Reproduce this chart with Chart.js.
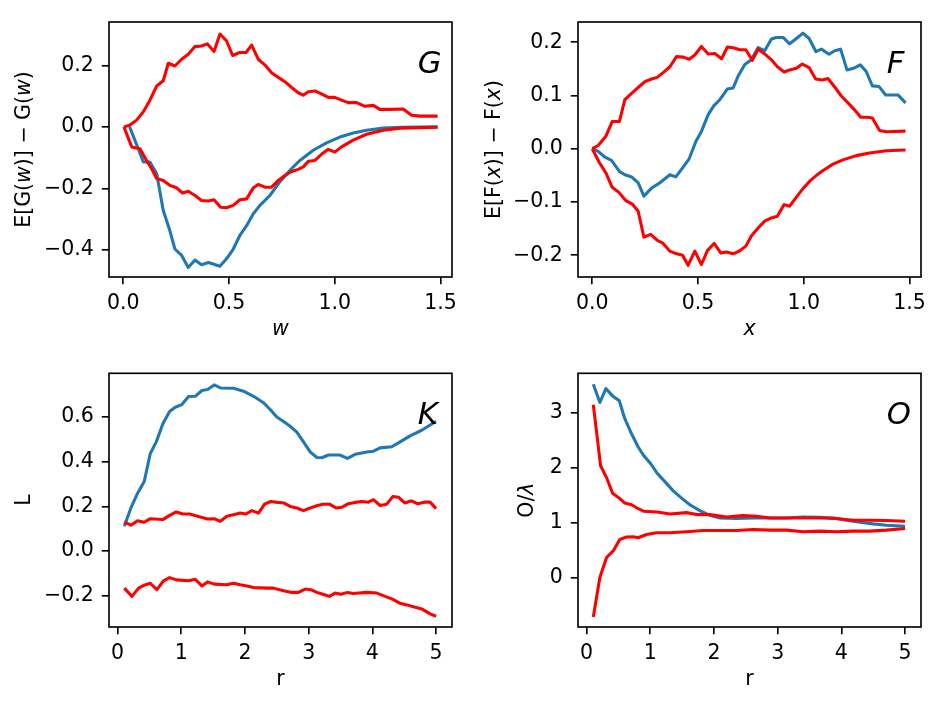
<!DOCTYPE html>
<html><head><meta charset="utf-8">
<script src="https://cdn.jsdelivr.net/npm/chart.js@4/dist/chart.umd.min.js"></script>
<style>
html,body{margin:0;padding:0;background:#fff;width:944px;height:706px;overflow:hidden}
.p{position:absolute}
canvas{display:block}
</style></head><body>
<div class="p" style="left:0;top:0"><canvas id="cG" width="472" height="353"></canvas></div>
<div class="p" style="left:472px;top:0"><canvas id="cF" width="472" height="353"></canvas></div>
<div class="p" style="left:0;top:353px"><canvas id="cK" width="472" height="353"></canvas></div>
<div class="p" style="left:472px;top:353px"><canvas id="cO" width="472" height="353"></canvas></div>
<script>
// ---------- Panel G ----------
const gTicksX = [0, 0.5, 1.0, 1.5];
const gTicksY = [-0.4, -0.2, 0.0, 0.2];
const gBlueX = [0.03,0.095,0.126,0.158,0.189,0.22,0.244,0.276,0.307,0.339,0.37,0.402,0.425,0.457,0.488,0.52,0.551,0.583,0.614,0.646,0.693,0.74,0.788,0.835,0.898,0.961,1.024,1.087,1.15,1.23,1.31,1.486];
const gBlueY = [0,-0.114,-0.114,-0.152,-0.272,-0.337,-0.397,-0.418,-0.457,-0.433,-0.448,-0.441,-0.446,-0.453,-0.429,-0.397,-0.353,-0.321,-0.283,-0.255,-0.223,-0.179,-0.141,-0.109,-0.076,-0.052,-0.033,-0.0196,-0.011,-0.004,-0.001,0];
const gUpX = [0.003,0.03,0.063,0.095,0.126,0.158,0.189,0.213,0.244,0.276,0.307,0.339,0.37,0.397,0.429,0.457,0.488,0.517,0.551,0.58,0.607,0.638,0.67,0.701,0.733,0.764,0.796,0.827,0.851,0.875,0.906,0.937,0.969,1.0,1.032,1.063,1.103,1.142,1.182,1.213,1.26,1.323,1.363,1.402,1.486];
const gUpY = [0,0.005,0.022,0.049,0.087,0.133,0.15,0.207,0.198,0.22,0.236,0.261,0.263,0.27,0.245,0.302,0.28,0.232,0.242,0.242,0.266,0.22,0.201,0.176,0.161,0.147,0.128,0.111,0.103,0.114,0.117,0.107,0.096,0.096,0.087,0.079,0.079,0.067,0.07,0.057,0.057,0.058,0.038,0.035,0.035];
const gLoX = [0.003,0.04,0.079,0.11,0.134,0.158,0.189,0.22,0.252,0.28,0.307,0.339,0.37,0.402,0.429,0.46,0.488,0.52,0.551,0.583,0.614,0.638,0.67,0.701,0.733,0.764,0.796,0.827,0.851,0.875,0.906,0.937,0.969,1.0,1.032,1.087,1.15,1.23,1.31,1.486];
const gLoY = [0,-0.065,-0.071,-0.109,-0.136,-0.168,-0.174,-0.19,-0.198,-0.215,-0.209,-0.223,-0.239,-0.241,-0.237,-0.261,-0.263,-0.255,-0.237,-0.234,-0.199,-0.187,-0.196,-0.196,-0.174,-0.158,-0.145,-0.138,-0.13,-0.112,-0.109,-0.089,-0.073,-0.082,-0.065,-0.043,-0.024,-0.011,-0.004,-0.001];

// ---------- Panel F ----------
const fTicksX = [0, 0.5, 1.0, 1.5];
const fTicksY = [-0.2, -0.1, 0.0, 0.1, 0.2];
const fBlueX = [0,0.028,0.06,0.091,0.128,0.154,0.186,0.217,0.244,0.28,0.32,0.367,0.395,0.427,0.458,0.49,0.516,0.548,0.575,0.603,0.638,0.666,0.689,0.721,0.752,0.784,0.815,0.847,0.87,0.902,0.933,0.965,0.996,1.025,1.057,1.083,1.119,1.146,1.174,1.204,1.235,1.267,1.295,1.324,1.355,1.387,1.445,1.481];
const fBlueY = [0,-0.005,-0.016,-0.022,-0.0425,-0.049,-0.053,-0.064,-0.089,-0.074,-0.064,-0.049,-0.053,-0.036,-0.019,0.014,0.0325,0.064,0.081,0.092,0.112,0.114,0.136,0.158,0.167,0.19,0.184,0.206,0.209,0.209,0.197,0.207,0.217,0.207,0.1825,0.187,0.1775,0.184,0.187,0.148,0.151,0.1575,0.145,0.118,0.117,0.101,0.101,0.086];
const fUpX = [0,0.028,0.065,0.094,0.128,0.154,0.186,0.217,0.249,0.28,0.307,0.335,0.367,0.398,0.43,0.458,0.485,0.516,0.548,0.579,0.611,0.639,0.671,0.697,0.726,0.757,0.784,0.815,0.847,0.875,0.907,0.933,0.965,0.993,1.025,1.056,1.088,1.114,1.146,1.177,1.209,1.24,1.269,1.3,1.324,1.358,1.39,1.481];
const fUpY = [0,0.006,0.024,0.051,0.051,0.092,0.104,0.115,0.126,0.131,0.134,0.143,0.154,0.173,0.172,0.168,0.176,0.192,0.178,0.179,0.169,0.191,0.189,0.186,0.186,0.166,0.187,0.178,0.167,0.154,0.144,0.148,0.151,0.159,0.1525,0.131,0.129,0.132,0.116,0.099,0.086,0.073,0.059,0.059,0.0575,0.034,0.032,0.033];
const fLoX = [0,0.033,0.065,0.094,0.126,0.157,0.189,0.217,0.244,0.276,0.307,0.335,0.367,0.395,0.427,0.453,0.485,0.516,0.545,0.576,0.608,0.634,0.666,0.694,0.726,0.752,0.784,0.815,0.847,0.875,0.907,0.933,0.965,0.996,1.028,1.06,1.091,1.138,1.185,1.248,1.311,1.39,1.481];
const fLoY = [0,-0.026,-0.046,-0.0725,-0.082,-0.097,-0.104,-0.1175,-0.166,-0.161,-0.172,-0.178,-0.1925,-0.197,-0.2,-0.219,-0.1925,-0.2175,-0.191,-0.178,-0.196,-0.194,-0.1975,-0.1925,-0.183,-0.164,-0.149,-0.136,-0.13,-0.127,-0.105,-0.108,-0.091,-0.075,-0.061,-0.05,-0.041,-0.029,-0.021,-0.013,-0.008,-0.004,-0.0025];

// ---------- Panel K ----------
const kTicksX = [0, 1, 2, 3, 4, 5];
const kTicksY = [-0.2, 0.0, 0.2, 0.4, 0.6];
const kBlueX = [0.105,0.209,0.314,0.418,0.513,0.607,0.711,0.816,0.905,1.009,1.114,1.219,1.323,1.412,1.517,1.621,1.82,1.977,2.134,2.291,2.395,2.5,2.605,2.709,2.814,2.918,3.023,3.128,3.206,3.311,3.494,3.609,3.729,3.912,4.017,4.121,4.304,4.435,4.592,4.775,5.0];
const kBlueY = [0.111,0.193,0.259,0.311,0.437,0.489,0.57,0.625,0.644,0.656,0.692,0.693,0.719,0.723,0.744,0.73,0.729,0.716,0.693,0.664,0.634,0.6,0.58,0.559,0.533,0.489,0.444,0.419,0.418,0.43,0.43,0.415,0.433,0.444,0.447,0.462,0.467,0.489,0.516,0.541,0.581];
const kUpX = [0.105,0.209,0.314,0.418,0.513,0.711,0.816,0.92,1.025,1.13,1.297,1.412,1.517,1.611,1.715,1.82,1.925,2.014,2.108,2.213,2.307,2.406,2.51,2.615,2.709,2.814,2.918,3.023,3.128,3.222,3.326,3.431,3.52,3.625,3.729,3.834,3.938,4.017,4.121,4.226,4.32,4.409,4.513,4.608,4.713,4.817,4.906,5.0];
const kUpY = [0.13,0.116,0.136,0.129,0.145,0.141,0.16,0.175,0.166,0.166,0.153,0.144,0.145,0.133,0.156,0.163,0.17,0.166,0.181,0.17,0.21,0.222,0.218,0.215,0.2,0.193,0.181,0.193,0.203,0.21,0.21,0.193,0.196,0.212,0.218,0.222,0.219,0.23,0.204,0.21,0.244,0.241,0.215,0.225,0.212,0.219,0.219,0.19];
const kLoX = [0.105,0.225,0.33,0.418,0.513,0.617,0.722,0.816,0.92,1.114,1.219,1.323,1.412,1.517,1.715,1.82,1.925,2.029,2.134,2.343,2.448,2.605,2.735,2.84,2.945,3.033,3.128,3.222,3.326,3.415,3.504,3.609,3.703,3.912,4.069,4.2,4.315,4.435,4.54,4.644,4.775,4.906,5.0];
const kLoY = [-0.166,-0.203,-0.166,-0.153,-0.144,-0.173,-0.133,-0.119,-0.129,-0.133,-0.126,-0.156,-0.138,-0.148,-0.151,-0.144,-0.151,-0.156,-0.163,-0.166,-0.166,-0.178,-0.185,-0.185,-0.17,-0.173,-0.185,-0.193,-0.203,-0.188,-0.193,-0.185,-0.19,-0.185,-0.188,-0.203,-0.215,-0.234,-0.241,-0.249,-0.259,-0.281,-0.292];

// ---------- Panel O ----------
const oTicksX = [0, 1, 2, 3, 4, 5];
const oTicksY = [0, 1, 2, 3];
const oBlueX = [0.105,0.209,0.303,0.408,0.513,0.601,0.706,0.81,0.9,1.004,1.109,1.229,1.36,1.491,1.621,1.778,1.935,2.092,2.354,2.615,2.877,3.138,3.4,3.661,3.87,4.079,4.289,4.498,4.707,5.0];
const oBlueY = [3.515,3.186,3.437,3.305,3.216,2.886,2.617,2.377,2.216,2.078,1.898,1.749,1.581,1.449,1.329,1.222,1.138,1.09,1.078,1.09,1.09,1.09,1.108,1.102,1.09,1.048,1.012,0.982,0.958,0.94];
const oUpX = [0.105,0.157,0.22,0.314,0.408,0.513,0.601,0.706,0.81,0.9,1.109,1.308,1.569,1.726,1.935,2.197,2.458,2.667,2.877,3.138,3.4,3.661,3.923,4.184,4.446,4.707,5.0];
const oUpY = [3.144,2.647,2.036,1.82,1.539,1.449,1.359,1.329,1.257,1.21,1.198,1.162,1.186,1.15,1.15,1.108,1.132,1.12,1.09,1.09,1.09,1.09,1.078,1.048,1.048,1.042,1.03];
const oLoX = [0.105,0.209,0.314,0.418,0.523,0.628,0.732,0.81,0.941,1.098,1.308,1.569,1.83,2.092,2.354,2.615,2.877,3.138,3.4,3.661,3.923,4.184,4.446,4.707,5.0];
const oLoY = [-0.707,0.012,0.371,0.491,0.701,0.743,0.749,0.731,0.79,0.82,0.82,0.838,0.862,0.862,0.862,0.88,0.868,0.868,0.838,0.85,0.838,0.85,0.85,0.868,0.898];

// Axis titles as [text, italic] pieces
const gYTitle = [['E[G(', false], ['w', true], [')] \u2212 G(', false], ['w', true], [')', false]];
const fYTitle = [['E[F(', false], ['x', true], [')] \u2212 F(', false], ['x', true], [')', false]];
const kYTitle = [['L', false]];
const oYTitle = [['O/', false], ['\u03bb', true]];

const BLUE = '#1f77b4', RED = '#ff0000';
const FONT = 'DejaVu Sans';
const FS = 20.5;

function fmt(v, d) {
  const s = Math.abs(v).toFixed(d);
  return (v < -1e-9 ? '\u2212' : '') + s;
}

const framePlugin = {
  id: 'frame',
  afterDatasetsDraw(chart, args, opts) {
    const ctx = chart.ctx, a = chart.chartArea;
    ctx.save();
    ctx.strokeStyle = '#000';
    ctx.lineWidth = 1.64;
    ctx.strokeRect(a.left, a.top, a.right - a.left, a.bottom - a.top);
    if (opts.letter) {
      ctx.font = 'italic 30.7px "DejaVu Sans"';
      ctx.fillStyle = '#000';
      ctx.textAlign = 'left';
      ctx.textBaseline = 'alphabetic';
      ctx.fillText(opts.letter, a.left + 0.9 * (a.right - a.left), a.bottom - 0.8 * (a.bottom - a.top));
    }
    if (opts.ytitle) {
      const pieces = opts.ytitle;
      const fontOf = it => (it ? 'italic ' : '') + FS + 'px "' + FONT + '"';
      let total = 0;
      const widths = pieces.map(p => { ctx.font = fontOf(p[1]); const w = ctx.measureText(p[0]).width; total += w; return w; });
      ctx.translate(opts.ytx, (a.top + a.bottom) / 2);
      ctx.rotate(-Math.PI / 2);
      ctx.fillStyle = '#000';
      ctx.textAlign = 'left';
      ctx.textBaseline = 'middle';
      let x = -total / 2;
      pieces.forEach((p, i) => { ctx.font = fontOf(p[1]); ctx.fillText(p[0], x, 0); x += widths[i]; });
    }
    ctx.restore();
  }
};

function series(x, y, color, order) {
  return {
    data: x.map((xv, i) => ({x: xv, y: y[i]})),
    borderColor: color, backgroundColor: color, borderWidth: 3.07,
    pointRadius: 0, pointHoverRadius: 0, tension: 0, fill: false, order: order,
    borderJoinStyle: 'round', borderCapStyle: 'butt'
  };
}

function panel(id, c) {
  const gridOpt = {drawOnChartArea: false, drawTicks: true, tickLength: 7.2, tickWidth: 1.64,
                   tickColor: '#000', color: '#000', lineWidth: 1.64};
  new Chart(document.getElementById(id), {
    type: 'line',
    data: {datasets: c.series},
    options: {
      responsive: false, animation: false, devicePixelRatio: 1,
      layout: {padding: {top: c.pt, right: c.pr, left: 0, bottom: 0}},
      plugins: {legend: {display: false}, tooltip: {enabled: false},
                frame: {letter: c.letter, ytitle: c.ylabel, ytx: c.ytx}},
      scales: {
        x: {
          type: 'linear', min: c.xmin, max: c.xmax,
          afterBuildTicks: s => { s.ticks = c.xt.map(v => ({value: v})); },
          afterFit: s => { s.height = c.xh; },
          ticks: {callback: v => fmt(v, c.xd), color: '#000', font: {family: FONT, size: FS},
                  padding: c.xpad, maxRotation: 0, minRotation: 0, autoSkip: false},
          grid: gridOpt, border: {display: false},
          title: {display: true, text: c.xlabel, color: '#000',
                  font: {family: FONT, size: FS, style: c.xital ? 'italic' : 'normal'},
                  padding: {top: 0, bottom: c.xtp}}
        },
        y: {
          type: 'linear', min: c.ymin, max: c.ymax,
          afterBuildTicks: s => { s.ticks = c.yt.map(v => ({value: v})); },
          afterFit: s => { s.width = c.yw; },
          ticks: {callback: v => fmt(v, c.yd), color: '#000', font: {family: FONT, size: FS},
                  padding: 8, autoSkip: false},
          grid: gridOpt, border: {display: false},
          title: {display: false}
        }
      }
    },
    plugins: [framePlugin]
  });
}

panel('cG', {
  series: [series(gUpX, gUpY, RED, 1), series(gLoX, gLoY, RED, 2), series(gBlueX, gBlueY, BLUE, 3)],
  letter: 'G', pt: 22, pr: 20, xh: 76, yw: 109,
  xmin: -0.0675, xmax: 1.554, ymin: -0.488, ymax: 0.341,
  xt: gTicksX, yt: gTicksY, xd: 1, yd: 1, xpad: 7,
  xlabel: 'w', xital: true, xtp: 11, ylabel: gYTitle, ytx: 25
});
panel('cF', {
  series: [series(fUpX, fUpY, RED, 1), series(fLoX, fLoY, RED, 2), series(fBlueX, fBlueY, BLUE, 3)],
  letter: 'F', pt: 22, pr: 23, xh: 76, yw: 106,
  xmin: -0.0675, xmax: 1.554, ymin: -0.241, ymax: 0.238,
  xt: fTicksX, yt: fTicksY, xd: 1, yd: 1, xpad: 7,
  xlabel: 'x', xital: true, xtp: 11, ylabel: fYTitle, ytx: 23
});
panel('cK', {
  series: [series(kUpX, kUpY, RED, 1), series(kLoX, kLoY, RED, 2), series(kBlueX, kBlueY, BLUE, 3)],
  letter: 'K', pt: 18, pr: 20, xh: 79, yw: 109,
  xmin: -0.135, xmax: 5.25, ymin: -0.34, ymax: 0.796,
  xt: kTicksX, yt: kTicksY, xd: 0, yd: 1, xpad: 7,
  xlabel: 'r', xital: false, xtp: 14, ylabel: kYTitle, ytx: 25
});
panel('cO', {
  series: [series(oUpX, oUpY, RED, 1), series(oLoX, oLoY, RED, 2), series(oBlueX, oBlueY, BLUE, 3)],
  letter: 'O', pt: 18, pr: 23, xh: 79, yw: 106,
  xmin: -0.135, xmax: 5.25, ymin: -0.89, ymax: 3.715,
  xt: oTicksX, yt: oTicksY, xd: 0, yd: 0, xpad: 7,
  xlabel: 'r', xital: false, xtp: 14, ylabel: oYTitle, ytx: 56
});
</script>
</body></html>
